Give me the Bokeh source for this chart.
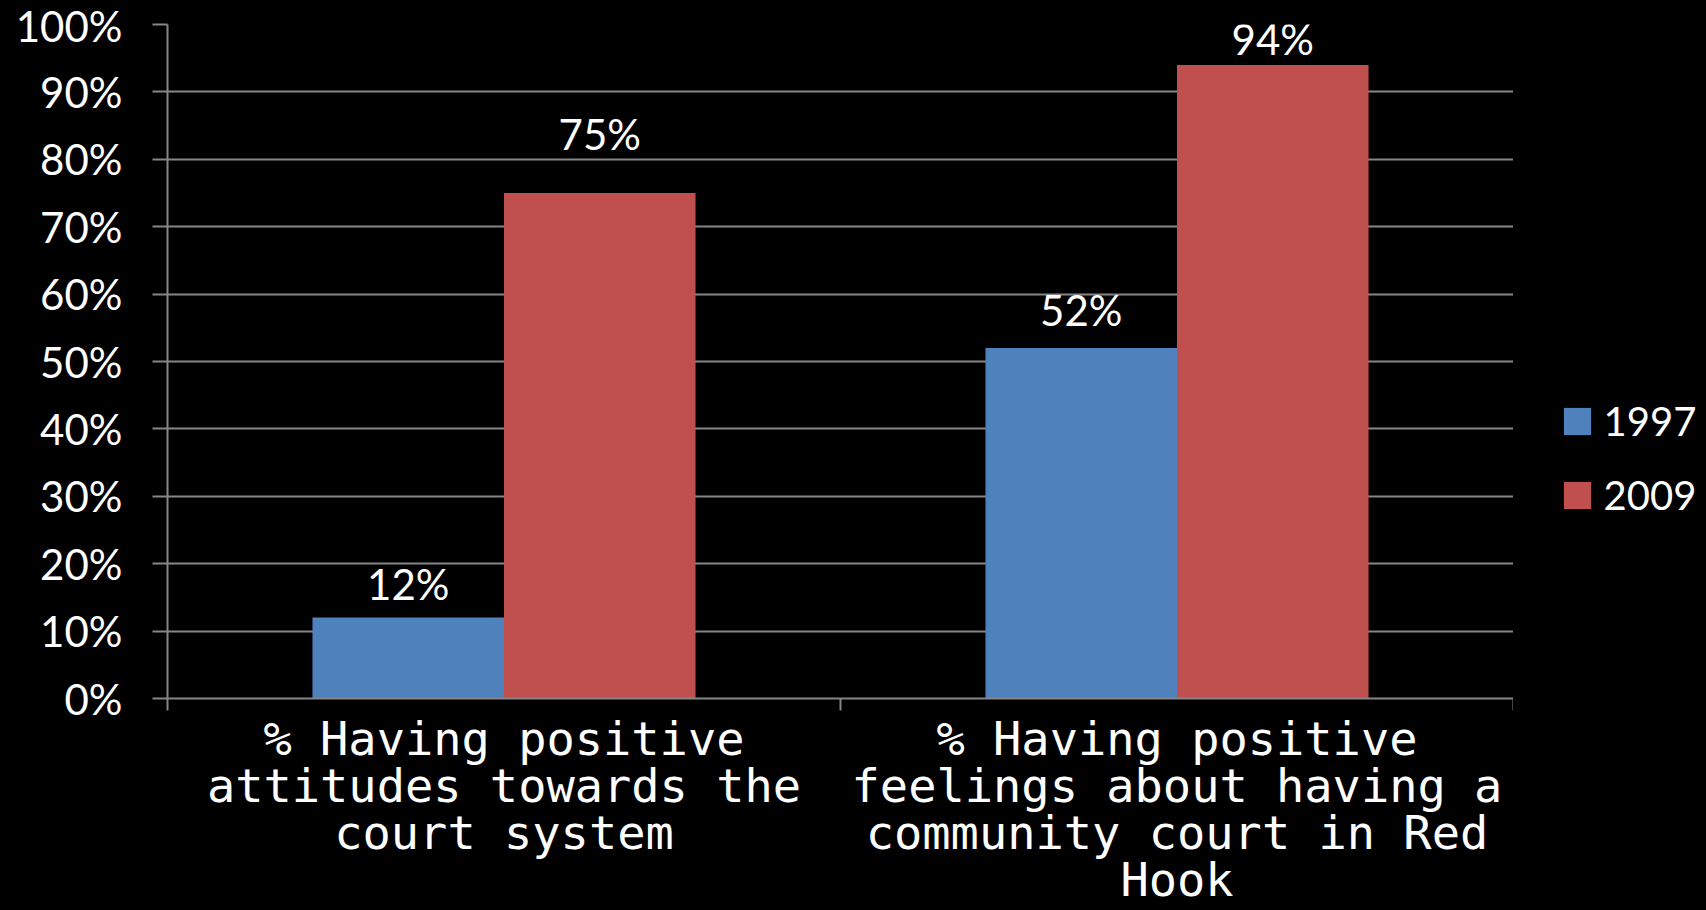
from bokeh.plotting import figure
from bokeh.layouts import row
from bokeh.models import (Range1d, FixedTicker, PrintfTickFormatter, Legend, LegendItem,
                          ColumnDataSource, Plot, VBar)
from bokeh.embed import file_html
from bokeh.resources import INLINE
from bokeh.core.properties import value

# ---- data ----
categories = [
    "% Having positive\nattitudes towards the\ncourt system",
    "% Having positive\nfeelings about having a\ncommunity court in Red\nHook",
]
series_names = ["1997", "2009"]
values_1997 = [12, 52]
values_2009 = [75, 94]
y_ticks = [0, 10, 20, 30, 40, 50, 60, 70, 80, 90, 100]

# ---- styling ----
BLUE = "#4F81BD"
RED = "#C0504D"
GRID = "#868686"
BAR_W = 0.2846
# vertical lift (px) of each data label above its bar, as placed in the original
lift_1997 = [-34, -38]
lift_2009 = [-59, -26]

centers = [i + 0.5 for i in range(len(categories))]

src1 = ColumnDataSource(dict(
    x=[c - BAR_W / 2 for c in centers], top=values_1997,
    label=[f"{v}%" for v in values_1997], lift=lift_1997))
src2 = ColumnDataSource(dict(
    x=[c + BAR_W / 2 for c in centers], top=values_2009,
    label=[f"{v}%" for v in values_2009], lift=lift_2009))

p = figure(width=1513, height=910, output_backend="svg", toolbar_location=None,
           x_range=Range1d(0, len(categories)), y_range=Range1d(0, 100),
           min_border_left=167, min_border_right=0, min_border_top=24,
           min_border_bottom=212,
           background_fill_color="black", border_fill_color="black",
           outline_line_color=None)

r1 = p.vbar(x="x", top="top", width=BAR_W, bottom=0, source=src1,
            fill_color=BLUE, line_color=None)
r2 = p.vbar(x="x", top="top", width=BAR_W, bottom=0, source=src2,
            fill_color=RED, line_color=None)

for s in (src1, src2):
    p.text(x="x", y="top", text="label", source=s, text_font=value("Lato"),
           text_font_size="42px", text_color="white", text_align="center",
           text_baseline="alphabetic", y_offset="lift")

# grid
p.xgrid.grid_line_color = None
p.ygrid.grid_line_color = GRID
p.ygrid.grid_line_width = 2
p.ygrid.ticker = FixedTicker(ticks=y_ticks)

# y axis
ya = p.yaxis[0]
ya.ticker = FixedTicker(ticks=y_ticks)
ya.formatter = PrintfTickFormatter(format="%d%%")
ya.major_tick_out = 15
ya.major_tick_in = 0
ya.minor_tick_line_color = None
ya.axis_line_color = GRID
ya.axis_line_width = 2
ya.major_tick_line_color = GRID
ya.major_tick_line_width = 2
ya.major_label_text_font = "Lato"
ya.major_label_text_font_size = "42px"
ya.major_label_text_color = "white"
ya.major_label_standoff = 30

# x axis
xa = p.xaxis[0]
xa.ticker = FixedTicker(ticks=centers, minor_ticks=[0, 1, 2])
xa.major_label_overrides = {c: cat for c, cat in zip(centers, categories)}
xa.major_tick_line_color = None
xa.major_tick_out = 0
xa.major_tick_in = 0
xa.minor_tick_out = 12
xa.minor_tick_in = 0
xa.minor_tick_line_color = GRID
xa.minor_tick_line_width = 2
xa.axis_line_color = GRID
xa.axis_line_width = 2
xa.major_label_text_font = "DejaVu Sans Mono"
xa.major_label_text_font_size = "47px"
xa.major_label_text_line_height = 0.86
xa.major_label_text_color = "white"
xa.major_label_standoff = 0

# legend drawn in a narrow, bare companion plot to the right of the chart
pl = Plot(width=193, height=910, output_backend="svg", toolbar_location=None,
          title=None, x_range=Range1d(0, 1), y_range=Range1d(0, 1),
          min_border_left=0, min_border_right=0, min_border_top=24,
          min_border_bottom=212,
          background_fill_color="black", border_fill_color="black",
          outline_line_color=None)
# legend swatches: proxies kept outside the visible range
proxy = ColumnDataSource(dict(x=[-5], top=[-5], bottom=[-6]))
l1 = pl.add_glyph(proxy, VBar(x="x", top="top", bottom="bottom", width=0.1,
                              fill_color=BLUE, line_color=None))
l2 = pl.add_glyph(proxy, VBar(x="x", top="top", bottom="bottom", width=0.1,
                              fill_color=RED, line_color=None))

legend = Legend(items=[LegendItem(label=series_names[0], renderers=[l1]),
                       LegendItem(label=series_names[1], renderers=[l2])],
                location=(46.6, 179), orientation="vertical",
                glyph_width=34, glyph_height=34, label_standoff=10,
                spacing=26, padding=0, margin=0,
                border_line_color=None, background_fill_alpha=0,
                label_text_font="Lato", label_text_font_size="40px",
                label_text_color="white")
pl.add_layout(legend)

layout = row(p, pl, spacing=0, styles={"background-color": "#000000"})

html = file_html(layout, INLINE)
html = html.replace("</head>",
                    "<style>html, body {background: #000000 !important;}</style></head>", 1)
open("out.html", "w").write(html)
